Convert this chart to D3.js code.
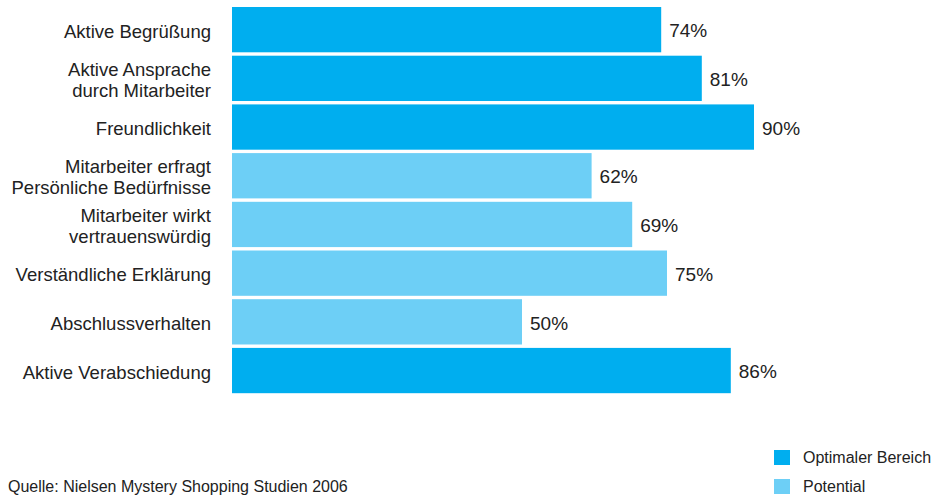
<!DOCTYPE html>
<html><head><meta charset="utf-8">
<script src="https://cdn.jsdelivr.net/npm/d3@7"></script>
<style>body{margin:0;background:#fff}svg{display:block}text{font-family:"Liberation Sans",Arial,sans-serif;fill:#222}</style>
</head><body><svg id="c" width="933" height="495"></svg>
<script>
const categories = [
  ["Aktive Begrüßung"],
  ["Aktive Ansprache","durch Mitarbeiter"],
  ["Freundlichkeit"],
  ["Mitarbeiter erfragt","Persönliche Bedürfnisse"],
  ["Mitarbeiter wirkt","vertrauenswürdig"],
  ["Verständliche Erklärung"],
  ["Abschlussverhalten"],
  ["Aktive Verabschiedung"]
];
const values = [74, 81, 90, 62, 69, 75, 50, 86];
const groups = ["opt","opt","opt","pot","pot","pot","pot","opt"];
const legendLabels = ["Optimaler Bereich","Potential"];
const sourceText = "Quelle: Nielsen Mystery Shopping Studien 2006";

const colors = {opt:"#00aeef", pot:"#6dcff6"};
const svg = d3.select("#c");
const x = d3.scaleLinear().domain([0,100]).range([232, 812]);
const y = d3.scaleBand().domain(d3.range(values.length)).range([5.3, 394.9]).paddingInner(0.07).paddingOuter(0.035);

svg.selectAll("rect.bar").data(values).join("rect").attr("class","bar")
  .attr("x", x(0)).attr("y",(d,i)=>y(i)).attr("height", y.bandwidth())
  .attr("width", d=>x(d)-x(0)).attr("fill",(d,i)=>colors[groups[i]]);

svg.selectAll("text.val").data(values).join("text").attr("class","val")
  .attr("x", d=>x(d)+8).attr("y",(d,i)=>y(i)+y.bandwidth()/2+1).attr("dy","0.35em")
  .attr("font-size",19).text(d=>d+"%");

const lab = svg.selectAll("text.lab").data(categories).join("text").attr("class","lab")
  .attr("text-anchor","end").attr("font-size",18.5);
lab.each(function(lines,i){
  const t = d3.select(this);
  const cy = y(i)+y.bandwidth()/2+1.5;
  const lh = 21;
  lines.forEach((l,k)=>{
    t.append("tspan").attr("x",211).attr("y", cy + (k-(lines.length-1)/2)*lh).attr("dy","0.35em").text(l);
  });
});

const lg = svg.selectAll("g.lg").data(legendLabels).join("g").attr("class","lg")
  .attr("transform",(d,i)=>`translate(774,${450+i*29})`);
lg.append("rect").attr("width",16).attr("height",15).attr("fill",(d,i)=>i===0?colors.opt:colors.pot);
lg.append("text").attr("x",29).attr("y",13).attr("font-size",16).text(d=>d);

svg.append("text").attr("x",8).attr("y",492).attr("font-size",16).text(sourceText);
</script></body></html>
